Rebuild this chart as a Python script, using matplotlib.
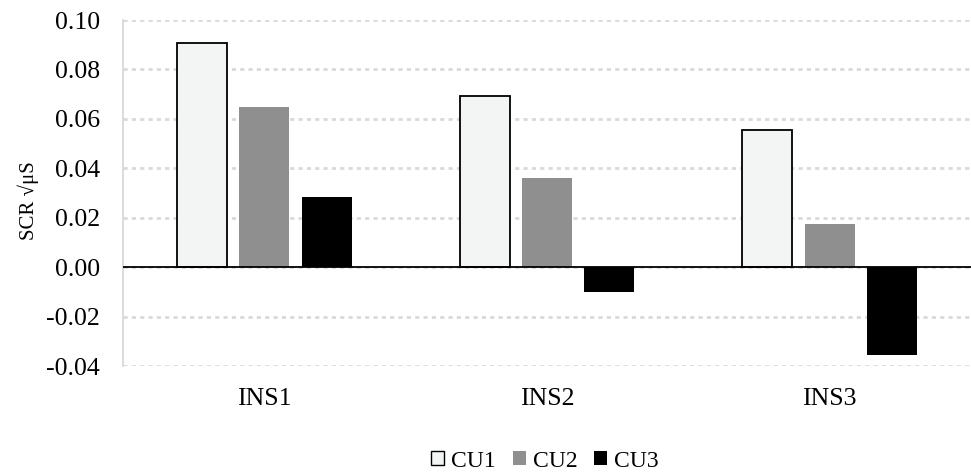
import matplotlib
matplotlib.use("Agg")
import matplotlib.pyplot as plt
import numpy as np
from matplotlib.patches import Patch

categories = ["INS1", "INS2", "INS3"]
series_names = ["CU1", "CU2", "CU3"]
cu1 = [0.0907, 0.0693, 0.0555]
cu2 = [0.0648, 0.0362, 0.0174]
cu3 = [0.0285, -0.0100, -0.0356]
yticks = [-0.04, -0.02, 0.00, 0.02, 0.04, 0.06, 0.08, 0.10]

plt.rcParams['font.family'] = ['Liberation Serif', 'DejaVu Serif']

fig = plt.figure(figsize=(9.71, 4.73), dpi=100)
ax = fig.add_axes([0.1267, 0.2262, 0.8733, 0.7315])

x = np.arange(len(categories))
w = 0.177
step = 0.221
styles = [
    dict(facecolor="#f3f5f4", edgecolor="black", linewidth=1.3),
    dict(facecolor="#8f8f8f", edgecolor="none"),
    dict(facecolor="#000000", edgecolor="none"),
]
for i, (vals, st) in enumerate(zip([cu1, cu2, cu3], styles)):
    ax.bar(x + (i - 1) * step, vals, width=w, zorder=3, **st)

ax.set_xlim(-0.5, 2.5)
ax.set_ylim(-0.04, 0.10)
ax.set_yticks(yticks)
ax.set_yticklabels([f"{v:.2f}" for v in yticks], fontsize=18.5)
ax.set_xticks(x)
ax.set_xticklabels(categories, fontsize=18.5)
ax.tick_params(axis='both', length=0)
ax.tick_params(axis='x', pad=15.5)
ax.tick_params(axis='y', pad=16.5)

ax.yaxis.grid(True, color="#d9d9d9", linestyle=(0, (1.5, 1.5)), linewidth=2.0, zorder=0)
ax.set_axisbelow(True)
for s in ["top", "right", "bottom"]:
    ax.spines[s].set_visible(False)
ax.spines["left"].set_color("#d9d9d9")
ax.spines["left"].set_linewidth(1.3)
ax.axhline(0, color="black", linewidth=1.3, zorder=4)

fig.text(28 / 971, 1 - 201 / 473, "SCR \u221a\u03bcS", fontsize=15,
         rotation=90, ha="center", va="center")

handles = [Patch(**styles[0]), Patch(**styles[1]), Patch(**styles[2])]
handles[0].set_linewidth(1.0)
fig.legend(handles, series_names, loc="center", bbox_to_anchor=(545 / 971, 1 - 461 / 473),
           ncol=3, frameon=False, fontsize=17, handlelength=0.55, handleheight=0.55,
           handletextpad=0.3, columnspacing=0.72, borderpad=0)

fig.savefig("out.png", dpi=100)
